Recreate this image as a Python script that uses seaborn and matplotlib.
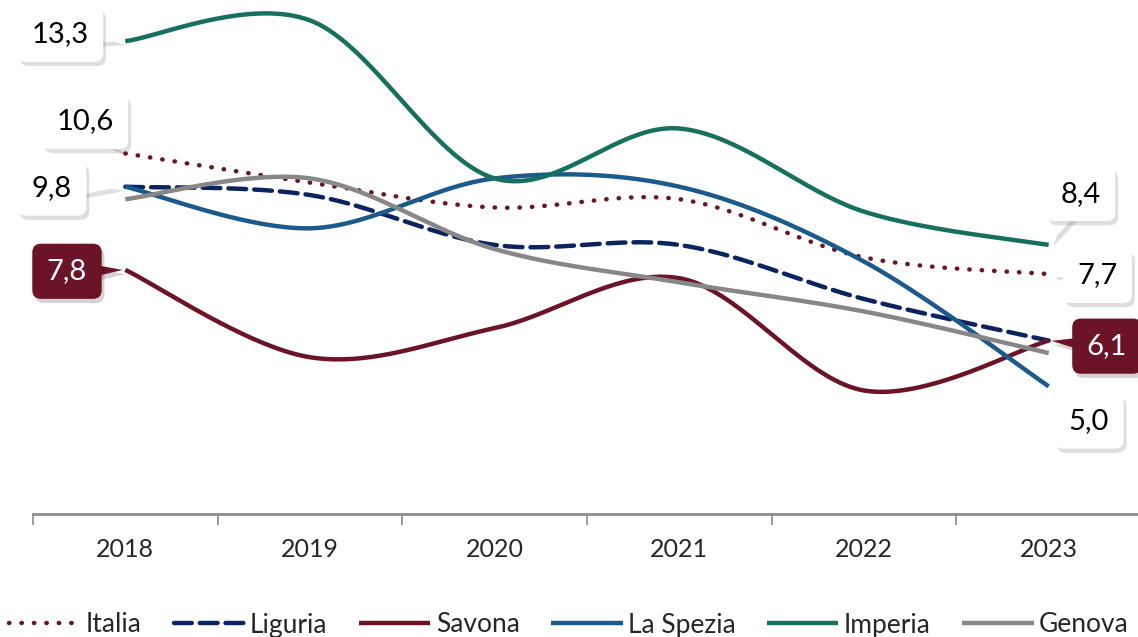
import numpy as np
import pandas as pd
import matplotlib.pyplot as plt
import matplotlib.patheffects as pe
import seaborn as sns

# Dati
anni = [2018, 2019, 2020, 2021, 2022, 2023]
italia = [10.6, 9.9, 9.3, 9.5, 8.1, 7.7]
liguria = [9.8, 9.6, 8.4, 8.4, 7.1, 6.1]
savona = [7.8, 5.7, 6.4, 7.6, 4.9, 6.1]
la_spezia = [9.8, 8.8, 10.0, 9.8, 8.0, 5.0]
imperia = [13.3, 13.8, 10.0, 11.2, 9.2, 8.4]
genova = [9.5, 10.0, 8.3, 7.5, 6.8, 5.8]

serie = {
    "Italia": italia,
    "Liguria": liguria,
    "Savona": savona,
    "La Spezia": la_spezia,
    "Imperia": imperia,
    "Genova": genova,
}
colori = {
    "Italia": "#6b1427",
    "Liguria": "#0b2460",
    "Savona": "#6b1427",
    "La Spezia": "#1b5a8a",
    "Imperia": "#17705e",
    "Genova": "#878787",
}
stili = {
    "Italia": (0, (0.1, 2.7)),
    "Liguria": (0, (4.0, 1.8)),
    "Savona": "-",
    "La Spezia": "-",
    "Imperia": "-",
    "Genova": "-",
}


def smooth(xs, ys, n=40):
    # curva "smussata" stile Excel (Bezier con tangenti Catmull-Rom)
    p = np.column_stack([xs, ys]).astype(float)
    out = []
    for i in range(len(p) - 1):
        p0 = p[i - 1] if i > 0 else p[i]
        p3 = p[i + 2] if i + 2 < len(p) else p[i + 1]
        c1 = p[i] + (p[i + 1] - p0) / 6
        c2 = p[i + 1] - (p3 - p[i]) / 6
        t = np.linspace(0, 1, n)[:, None]
        b = ((1 - t) ** 3) * p[i] + 3 * ((1 - t) ** 2) * t * c1 \
            + 3 * (1 - t) * t ** 2 * c2 + t ** 3 * p[i + 1]
        out.append(b if i == 0 else b[1:])
    return np.vstack(out)


sns.set_style("white")
plt.rcParams["font.family"] = ["Lato", "DejaVu Sans"]

fig = plt.figure(figsize=(11.38, 6.37), dpi=100)
ax = fig.add_axes([33 / 1138, 123 / 637, 1108 / 1138, 514 / 637])

for nome, valori in serie.items():
    curva = smooth(anni, valori)
    df = pd.DataFrame({"anno": curva[:, 0], "valore": curva[:, 1]})
    sns.lineplot(data=df, x="anno", y="valore", sort=False, ax=ax,
                 color=colori[nome], lw=3.2, linestyle=stili[nome],
                 dash_capstyle="round", solid_capstyle="butt", label=nome)

ax.set_xlim(2017.5, 2023.5)
ax.set_ylim(1.93, 14.29)
ax.set_yticks([])
ax.set_xlabel("")
ax.set_ylabel("")
for s in ["top", "right", "left"]:
    ax.spines[s].set_visible(False)
ax.spines["bottom"].set_color("#8c8c8c")
ax.spines["bottom"].set_linewidth(2)

# tacche ai confini delle categorie, etichette al centro
ax.set_xticks(np.arange(2017.5, 2024, 1))
ax.set_xticklabels([])
ax.set_xticks(anni, minor=True)
ax.set_xticklabels([str(a) for a in anni], minor=True, fontsize=18)
ax.tick_params(axis="x", which="major", length=8, width=1.2, color="#8c8c8c",
               direction="out", bottom=True)
ax.tick_params(axis="x", which="minor", length=0, pad=17)

# etichette dati
etichette = [
    ("Imperia", 0, (-47, 5)),
    ("Italia", 0, (-29, 23)),
    ("La Spezia", 0, (-53, -1)),
    ("Savona", 0, (-42, -1)),
    ("Imperia", 5, (23, 37)),
    ("Italia", 5, (35, -1)),
    ("Savona", 5, (42, -4)),
    ("La Spezia", 5, (29, -25)),
]
ombra = [pe.SimplePatchShadow(offset=(2, -3), alpha=0.18), pe.Normal()]
for nome, i, off in etichette:
    v = serie[nome][i]
    scuro = nome == "Savona"
    fc = "#6b1427" if scuro else "white"
    tc = "white" if scuro else "black"
    ann = ax.annotate(f"{v:.1f}".replace(".", ","), xy=(anni[i], v),
                      xytext=off, textcoords="offset points",
                      ha="center", va="center", fontsize=21, color=tc,
                      bbox=dict(boxstyle="round,pad=0.5,rounding_size=0.3",
                                fc=fc, ec="none"),
                      arrowprops=dict(arrowstyle="wedge,tail_width=0.8",
                                      fc=fc, ec="none", patchA=None,
                                      shrinkA=0, shrinkB=2),
                      annotation_clip=False, zorder=5)
    ann.get_bbox_patch().set_path_effects(ombra)
    ann.arrow_patch.set_path_effects(ombra)

ax.legend(loc="center", bbox_to_anchor=(0.5, 12 / 637),
          bbox_transform=fig.transFigure, ncol=6, frameon=False,
          fontsize=19, handlelength=2.7, handletextpad=0.2, columnspacing=1.2)

fig.savefig("out.png", dpi=100)
